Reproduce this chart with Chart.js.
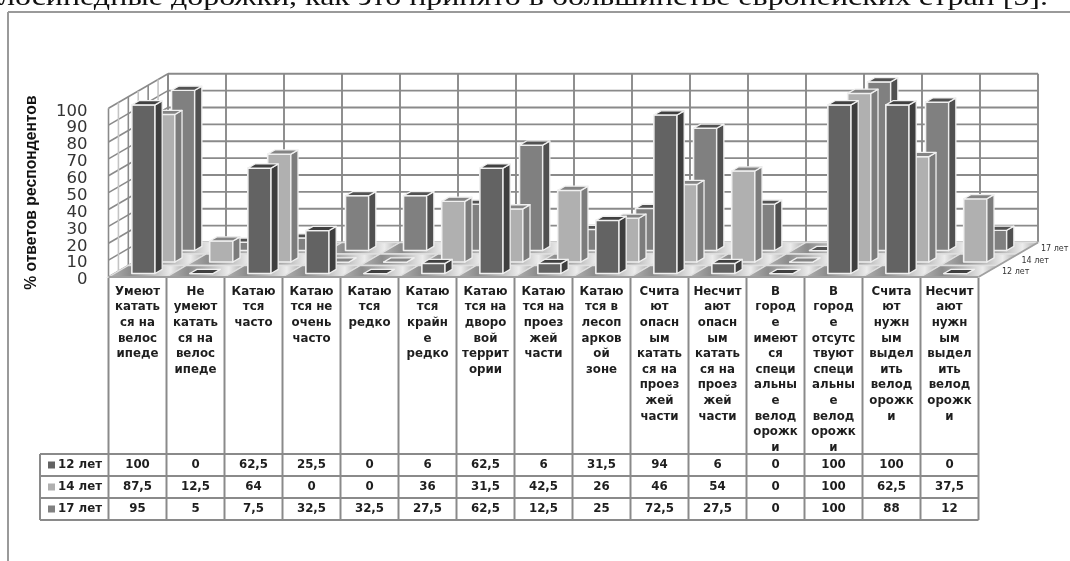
<!DOCTYPE html>
<html>
<head>
<meta charset="utf-8">
<title>Велосипед</title>
<style>
  html, body { margin: 0; padding: 0; background: #fff; overflow: hidden; }
  canvas { display: block; }
</style>
<script src="https://cdn.jsdelivr.net/npm/chart.js@4/dist/chart.umd.js"></script>
</head>
<body>
<canvas id="chart-canvas" width="1070" height="561"></canvas>
<script>
var headline = 'лосипедные дорожки, как это принято в большинстве европейских стран [5].';
var axisTitle = '% ответов респондентов';

var categories = [
  ['Умеют', 'катать', 'ся на', 'велос', 'ипеде'],
  ['Не', 'умеют', 'катать', 'ся на', 'велос', 'ипеде'],
  ['Катаю', 'тся', 'часто'],
  ['Катаю', 'тся не', 'очень', 'часто'],
  ['Катаю', 'тся', 'редко'],
  ['Катаю', 'тся', 'крайн', 'е', 'редко'],
  ['Катаю', 'тся на', 'дворо', 'вой', 'террит', 'ории'],
  ['Катаю', 'тся на', 'проез', 'жей', 'части'],
  ['Катаю', 'тся в', 'лесоп', 'арков', 'ой', 'зоне'],
  ['Счита', 'ют', 'опасн', 'ым', 'катать', 'ся на', 'проез', 'жей', 'части'],
  ['Несчит', 'ают', 'опасн', 'ым', 'катать', 'ся на', 'проез', 'жей', 'части'],
  ['В', 'город', 'е', 'имеют', 'ся', 'специ', 'альны', 'е', 'велод', 'орожк', 'и'],
  ['В', 'город', 'е', 'отсутс', 'твуют', 'специ', 'альны', 'е', 'велод', 'орожк', 'и'],
  ['Счита', 'ют', 'нужн', 'ым', 'выдел', 'ить', 'велод', 'орожк', 'и'],
  ['Несчит', 'ают', 'нужн', 'ым', 'выдел', 'ить', 'велод', 'орожк', 'и']
];

var seriesNames = ['12 лет', '14 лет', '17 лет'];
var age12 = [100, 0, 62.5, 25.5, 0, 6, 62.5, 6, 31.5, 94, 6, 0, 100, 100, 0];
var age14 = [87.5, 12.5, 64, 0, 0, 36, 31.5, 42.5, 26, 46, 54, 0, 100, 62.5, 37.5];
var age17 = [95, 5, 7.5, 32.5, 32.5, 27.5, 62.5, 12.5, 25, 72.5, 27.5, 0, 100, 88, 12];
var seriesValues = [age12, age14, age17];

var frontColors = ['#636363', '#b0b0b0', '#808080'];
var sideColors = ['#3e3e3e', '#7c7c7c', '#505050'];
var topColors = ['#404040', '#848484', '#525252'];

// depth of the floor, front edge to back wall, split in one lane per series
var DEPTH_X = 59.5;
var DEPTH_Y = 34.5;
var LANE_FRONT = 0.3;
var LANE_DEPTH = 0.36;

var TABLE_TOP = 454;
var TABLE_ROW = 22;
var TABLE_LEFT = 40;
var GRID = '#8a8a8a';
var INK = '#1e1e1e';

var currentLane = 0;

function poly(ctx, pts, fill, stroke, lw) {
  ctx.beginPath();
  ctx.moveTo(pts[0][0], pts[0][1]);
  for (var i = 1; i < pts.length; i++) ctx.lineTo(pts[i][0], pts[i][1]);
  ctx.closePath();
  if (fill) { ctx.fillStyle = fill; ctx.fill(); }
  if (stroke) { ctx.strokeStyle = stroke; ctx.lineWidth = lw; ctx.stroke(); }
}

function line(ctx, x1, y1, x2, y2, color, lw) {
  ctx.beginPath();
  ctx.moveTo(x1, y1);
  ctx.lineTo(x2, y2);
  ctx.strokeStyle = color;
  ctx.lineWidth = lw;
  ctx.stroke();
}

// bars are drawn as boxes standing in their lane on the floor
Chart.BarElement.prototype.draw = function(ctx) {
  var p = this.getProps(['x', 'y', 'base', 'width']);
  var lane = currentLane;
  var laneX = DEPTH_X / seriesNames.length, laneY = DEPTH_Y / seriesNames.length;
  var ox = (lane + LANE_FRONT) * laneX, oy = (lane + LANE_FRONT) * laneY;
  var dx = LANE_DEPTH * laneX, dy = LANE_DEPTH * laneY;
  var l = p.x - p.width / 2 + ox, r = p.x + p.width / 2 + ox;
  var t = p.y - oy, b = p.base - oy;
  var edge = '#f0f0f0';

  ctx.save();
  ctx.lineJoin = 'round';
  poly(ctx, [[l, b], [r, b], [r, t], [l, t]], frontColors[lane], edge, 1.6);
  poly(ctx, [[r, b], [r + dx, b - dy], [r + dx, t - dy], [r, t]], sideColors[lane], edge, 1.3);
  poly(ctx, [[l, t], [r, t], [r + dx, t - dy], [l + dx, t - dy]], topColors[lane], edge, 1.3);
  ctx.restore();
};

var wallsPlugin = {
  id: 'walls',
  beforeDatasetDraw: function(chart, args) {
    currentLane = args.index;
  },
  beforeDatasetsDraw: function(chart) {
    var ctx = chart.ctx, x = chart.scales.x, y = chart.scales.y;
    var left = x.left, right = x.right, bottom = y.getPixelForValue(0), top = y.getPixelForValue(100);
    var step = (right - left) / categories.length;
    var i, j, v;

    ctx.save();
    // text line above the frame, then the frame itself
    ctx.save();
    ctx.fillStyle = '#111';
    ctx.font = '26px "Liberation Serif"';
    ctx.textAlign = 'right';
    ctx.textBaseline = 'alphabetic';
    ctx.translate(1048, 5);
    ctx.scale(1.23, 1);
    ctx.fillText(headline, 0, 0);
    ctx.restore();
    line(ctx, 8, 12, 1070, 12, '#9a9a9a', 2);
    line(ctx, 8, 12, 8, 561, '#9a9a9a', 2);

    // back wall and left wall
    for (v = 0; v <= 100; v += 10) {
      var py = y.getPixelForValue(v);
      line(ctx, left + DEPTH_X, py - DEPTH_Y, right + DEPTH_X, py - DEPTH_Y, GRID, 1.9);
      line(ctx, left, py, left + DEPTH_X, py - DEPTH_Y, GRID, 1.6);
    }
    for (i = 0; i <= categories.length; i++) {
      var bx = left + i * step + DEPTH_X;
      line(ctx, bx, bottom - DEPTH_Y, bx, top - DEPTH_Y, GRID, 1.9);
    }
    for (j = 0; j <= 6; j++) {
      var wx = left + DEPTH_X * j / 6, wy = DEPTH_Y * j / 6;
      line(ctx, wx, bottom - wy, wx, top - wy, j % 2 ? '#c4c4c4' : GRID, 1.6);
    }

    // floor, one shaded cell per category and lane
    var lanes = seriesNames.length;
    for (j = lanes - 1; j >= 0; j--) {
      var d0 = j / lanes, d1 = (j + 1) / lanes;
      for (i = 0; i < categories.length; i++) {
        var x0 = left + i * step;
        var cell = [
          [x0 + d0 * DEPTH_X, bottom - d0 * DEPTH_Y],
          [x0 + step + d0 * DEPTH_X, bottom - d0 * DEPTH_Y],
          [x0 + step + d1 * DEPTH_X, bottom - d1 * DEPTH_Y],
          [x0 + d1 * DEPTH_X, bottom - d1 * DEPTH_Y]
        ];
        var g = ctx.createLinearGradient(x0 + d0 * DEPTH_X, 0, x0 + step + d1 * DEPTH_X, 0);
        g.addColorStop(0, '#b4b4b4');
        g.addColorStop(0.28, '#8c8c8c');
        g.addColorStop(0.55, '#b8b8b8');
        g.addColorStop(0.8, '#ececec');
        g.addColorStop(1, '#a8a8a8');
        poly(ctx, cell, g, '#e0e0e0', 1.4);
      }
    }
    line(ctx, left, bottom, right, bottom, '#a0a0a0', 1.8);
    line(ctx, right, bottom, right + DEPTH_X, bottom - DEPTH_Y, '#a0a0a0', 1.8);

    // lane names along the right side of the floor
    ctx.fillStyle = '#333';
    ctx.font = '8px "DejaVu Sans"';
    ctx.textAlign = 'left';
    ctx.textBaseline = 'middle';
    for (j = 0; j < lanes; j++) {
      ctx.fillText(seriesNames[j], right + 23.5 + j * 19.5, bottom - 5 - j * 11.5);
    }
    ctx.restore();
  }
};

// data table under the plot, columns follow the category scale
var tablePlugin = {
  id: 'dataTable',
  afterDraw: function(chart) {
    var ctx = chart.ctx, x = chart.scales.x;
    var bottom = chart.scales.y.getPixelForValue(0);
    var left = x.left, right = x.right;
    var step = (right - left) / categories.length;
    var lanes = seriesNames.length;
    var end = TABLE_TOP + lanes * TABLE_ROW;
    var i, j;

    ctx.save();
    for (i = 0; i <= categories.length; i++) {
      line(ctx, left + i * step, bottom + 1, left + i * step, end, GRID, 2);
    }
    for (j = 0; j <= lanes; j++) {
      line(ctx, TABLE_LEFT, TABLE_TOP + j * TABLE_ROW, right, TABLE_TOP + j * TABLE_ROW, GRID, 2);
    }
    line(ctx, TABLE_LEFT, TABLE_TOP, TABLE_LEFT, end, GRID, 2);

    ctx.font = 'bold 11.8px "DejaVu Sans"';
    ctx.textBaseline = 'middle';
    ctx.fillStyle = INK;
    for (j = 0; j < lanes; j++) {
      var cy = TABLE_TOP + j * TABLE_ROW + TABLE_ROW / 2;
      ctx.fillStyle = frontColors[j];
      ctx.fillRect(TABLE_LEFT + 8, cy - 3.5, 7, 7);
      ctx.fillStyle = INK;
      ctx.textAlign = 'left';
      ctx.fillText(seriesNames[j], TABLE_LEFT + 18, cy);
      ctx.textAlign = 'center';
      for (i = 0; i < categories.length; i++) {
        ctx.fillText(String(seriesValues[j][i]).replace('.', ','), x.getPixelForValue(i), cy);
      }
    }
    ctx.restore();
  }
};

var datasets = seriesNames.map(function(name, i) {
  return {
    label: name,
    data: seriesValues[i],
    backgroundColor: frontColors[i],
    grouped: false,
    clip: false,
    barPercentage: 0.4,
    categoryPercentage: 1
  };
});

window.chart = new Chart('chart-canvas', {
  type: 'bar',
  data: { labels: categories, datasets: datasets },
  plugins: [wallsPlugin, tablePlugin],
  options: {
    responsive: false,
    animation: false,
    layout: { padding: { left: 8.5, top: 108.3, right: 91.5, bottom: 0 } },
    plugins: { legend: { display: false }, tooltip: { enabled: false } },
    scales: {
      x: {
        afterFit: function(scale) { scale.height = 284; },
        grid: { display: false, drawTicks: false },
        border: { display: false },
        ticks: {
          autoSkip: false,
          maxRotation: 0,
          minRotation: 0,
          padding: 7,
          color: INK,
          font: { family: 'DejaVu Sans', size: 11.8, weight: 'bold', lineHeight: 1.322 }
        }
      },
      y: {
        min: 0,
        max: 100,
        afterFit: function(scale) { scale.width = 100; },
        grid: { display: false, drawTicks: false },
        border: { display: false },
        title: {
          display: true,
          text: axisTitle,
          color: '#111',
          padding: { top: 14, bottom: 0 },
          font: { family: 'Liberation Sans', size: 15.7, weight: 'bold', lineHeight: 1.2 }
        },
        ticks: {
          stepSize: 10,
          autoSkip: false,
          padding: 21,
          labelOffset: 3,
          color: '#333',
          font: { family: 'DejaVu Sans', size: 16.5 }
        }
      }
    }
  }
});
</script>
</body>
</html>
